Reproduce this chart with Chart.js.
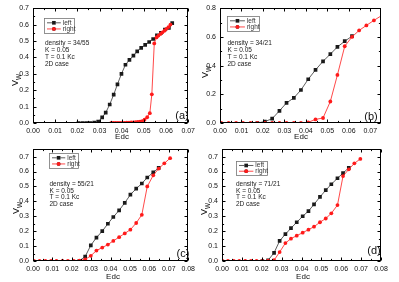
<!DOCTYPE html>
<html><head><meta charset="utf-8">
<script src="https://cdn.jsdelivr.net/npm/chart.js@4/dist/chart.umd.min.js"></script>
<style>
html,body{margin:0;padding:0;background:#fff;}
#wrap{position:relative;width:399px;height:282px;overflow:hidden;background:#fff}
canvas{position:absolute}
</style>
</head><body>
<div id="wrap">
<canvas id="ca" width="199" height="141" style="left:0;top:0"></canvas>
<canvas id="cb" width="200" height="141" style="left:199px;top:0"></canvas>
<canvas id="cc" width="199" height="141" style="left:0;top:141px"></canvas>
<canvas id="cd" width="200" height="141" style="left:199px;top:141px"></canvas>
</div>
<script>
// ---------- Panel (a): density = 34/55 ----------
const aLeftX  = [0.0205,0.0223,0.0240,0.0258,0.0276,0.0294,0.0312,0.0328,0.0346,0.0364,0.0381,0.0399,0.0417,0.0435,0.0453,0.0470,0.0488,0.0506,0.0524,0.0542,0.0559,0.0577,0.0595,0.0613,0.0628];
const aLeftY  = [0,0,0,0,0.003,0.008,0.034,0.063,0.113,0.173,0.236,0.30,0.355,0.385,0.411,0.437,0.458,0.476,0.494,0.512,0.534,0.55,0.57,0.58,0.609];
const aRightX = [0.0353,0.0363,0.0373,0.0383,0.0393,0.0403,0.0413,0.0423,0.0433,0.0443,0.0453,0.0463,0.0473,0.0483,0.0493,0.0503,0.0515,0.0527,0.0536,0.0547,0.0557,0.0566,0.0575,0.0584,0.0593,0.0602,0.0611,0.0620];
const aRightY = [0,0,0,0,0,0.001,0.001,0.002,0.002,0.003,0.004,0.005,0.006,0.008,0.012,0.02,0.035,0.06,0.175,0.485,0.522,0.533,0.543,0.553,0.563,0.574,0.585,0.60];
// ---------- Panel (b): density = 34/21 ----------
const bLeftX  = [0.0174,0.0209,0.0243,0.0277,0.0310,0.0344,0.0377,0.0411,0.0445,0.0480,0.0514,0.0547,0.0581,0.0615];
const bLeftY  = [0,0.01,0.03,0.085,0.14,0.175,0.23,0.305,0.37,0.43,0.48,0.53,0.57,0.605];
const bRightX = [0.0006,0.0040,0.0075,0.0107,0.0142,0.0174,0.0209,0.0243,0.0277,0.0310,0.0344,0.0377,0.0411,0.0445,0.0480,0.0514,0.0547,0.0581,0.0615,0.0648,0.0682,0.0717,0.0786];
const bRightY = [0,0,0,0,0,0,0,0,0,0,0,0,0.005,0.025,0.035,0.15,0.335,0.535,0.60,0.645,0.68,0.715,0.78];
// ---------- Panel (c): density = 55/21 ----------
const cLeftX  = [0.0239,0.0269,0.0298,0.0327,0.0357,0.0386,0.0414,0.0444,0.0473,0.0502,0.0532,0.0561,0.0589,0.0620,0.0648];
const cLeftY  = [0,0.03,0.105,0.157,0.20,0.25,0.295,0.34,0.39,0.445,0.485,0.52,0.56,0.595,0.625];
const cRightX = [0.0005,0.0034,0.0064,0.0093,0.0121,0.0152,0.0180,0.0210,0.0239,0.0269,0.0298,0.0327,0.0357,0.0386,0.0414,0.0444,0.0473,0.0502,0.0532,0.0561,0.0589,0.0620,0.0648,0.0677,0.0707];
const cRightY = [0,0,0,0,0,0,0,0,0.002,0.01,0.035,0.07,0.09,0.11,0.135,0.16,0.185,0.21,0.255,0.31,0.50,0.575,0.62,0.655,0.69];
// ---------- Panel (d): density = 71/21 ----------
const dLeftX  = [0.0203,0.0232,0.0262,0.0290,0.0319,0.0347,0.0376,0.0406,0.0435,0.0463,0.0493,0.0522,0.0550,0.0581,0.0609,0.0638];
const dLeftY  = [0,0.005,0.055,0.135,0.18,0.22,0.26,0.30,0.335,0.38,0.43,0.475,0.515,0.555,0.59,0.625];
const dRightX = [0.0003,0.0030,0.0059,0.0087,0.0117,0.0146,0.0174,0.0203,0.0232,0.0262,0.0290,0.0319,0.0347,0.0376,0.0406,0.0435,0.0463,0.0493,0.0522,0.0550,0.0581,0.0609,0.0638,0.0666,0.0696];
const dRightY = [0,0,0,0,0,0,0,0,0.002,0.005,0.06,0.12,0.15,0.17,0.19,0.21,0.23,0.26,0.285,0.32,0.375,0.57,0.615,0.655,0.685];

const seriesNames = ['left','right'];
const panelLabels = ['(a)','(b)','(c)','(d)'];
const densities = ['34/55','34/21','55/21','71/21'];
const notesTail = ['K = 0.05','T = 0.1 Kc','2D case'];
const xTitle = 'Edc';

const FONT = '"Liberation Sans", Arial, sans-serif';
const BLACK = '#1a1a1a', RED = '#ff1a1a';

function pts(xs, ys){ return xs.map((x,i)=>({x:x,y:ys[i]})); }

const decor = {
  id:'decor',
  afterDraw(chart){
    const o = chart.options.plugins.decor;
    const ctx = chart.ctx, a = chart.chartArea;
    const xs = chart.scales.x, ys = chart.scales.y;
    ctx.save();
    ctx.strokeStyle = '#000'; ctx.lineWidth = 1;
    const L = Math.round(a.left)+0.5, T = Math.round(a.top)+0.5, R = Math.round(a.right)-0.5, B = Math.round(a.bottom)-0.5;
    ctx.strokeRect(L, T, R-L, B-T);
    function ln(x1,y1,x2,y2){ ctx.beginPath(); ctx.moveTo(x1,y1); ctx.lineTo(x2,y2); ctx.stroke(); }
    // x ticks (major + minor), inward, top & bottom
    const xt = xs.ticks.map(t=>t.value);
    xt.forEach((v,i)=>{
      const p = Math.round(xs.getPixelForValue(v))+0.5;
      ln(p,B,p,B-3); ln(p,T,p,T+3);
      const nv = v + (xt[1]-xt[0])/2;
      if (nv < xs.max) { const q = Math.round(xs.getPixelForValue(nv))+0.5; ln(q,B,q,B-1.6); ln(q,T,q,T+1.6); }
    });
    const yt = ys.ticks.map(t=>t.value);
    yt.forEach((v,i)=>{
      const p = Math.round(ys.getPixelForValue(v))+0.5;
      ln(L,p,L+3,p); ln(R,p,R-3,p);
      const nv = v + (yt[1]-yt[0])/2;
      if (nv < ys.max) { const q = Math.round(ys.getPixelForValue(nv))+0.5; ln(L,q,L+1.6,q); ln(R,q,R-1.6,q); }
    });
    // legend box
    const lg = o.legend;
    ctx.strokeStyle = '#777'; ctx.lineWidth = 0.8;
    ctx.fillStyle = '#fff';
    ctx.fillRect(lg.x, lg.y, lg.w, lg.h);
    ctx.strokeRect(lg.x+0.5, lg.y+0.5, lg.w, lg.h);
    chart.data.datasets.forEach((ds,i)=>{
      const yy = lg.y + lg.h*(i===0?0.32:0.73);
      const x1 = lg.x+3, x2 = lg.x+lg.w*0.56;
      ctx.strokeStyle = ds.borderColor; ctx.lineWidth = 0.8;
      ln(x1,yy,x2,yy);
      Chart.helpers.drawPoint(ctx, {pointStyle: ds.pointStyle, radius: ds.pointRadius, borderWidth: 0}, (x1+x2)/2, yy);
      ctx.fillStyle = ds.backgroundColor;
      ctx.fill();
      ctx.fillStyle = '#333'; ctx.font = '6.5px '+FONT; ctx.textBaseline='middle'; ctx.textAlign='left';
      ctx.fillText(ds.label, x2+2, yy);
    });
    // notes
    ctx.fillStyle = '#222'; ctx.font = '6.5px '+FONT; ctx.textBaseline='middle'; ctx.textAlign='left';
    o.notes.forEach((s,i)=>ctx.fillText(s, o.noteX, o.noteY + i*6.8));
    // panel label
    ctx.fillStyle = '#111'; ctx.font = '11px '+FONT; ctx.textAlign='center';
    ctx.fillText(o.label, o.labelX, o.labelY);
    // x title
    ctx.font = '8px '+FONT; ctx.fillStyle='#111'; ctx.textAlign='center'; ctx.textBaseline='middle';
    ctx.fillText(xTitle, o.xtX, o.xtY);
    // y title  V_W rotated
    ctx.translate(o.ytX, o.ytY); ctx.rotate(-Math.PI/2);
    ctx.font = '9px '+FONT; const wV = ctx.measureText('V').width;
    ctx.font = '6.5px '+FONT; const wW = ctx.measureText('W').width;
    const x0 = -(wV+wW)/2;
    ctx.textAlign='left';
    ctx.font = '9px '+FONT; ctx.fillText('V', x0, 0);
    ctx.font = '6.5px '+FONT; ctx.fillText('W', x0+wV, 3);
    ctx.restore();
  }
};

function makePanel(id, lx, ly, rx, ry, sc, d){
  new Chart(document.getElementById(id), {
    type:'line',
    data:{datasets:[
      {label:seriesNames[0], data:pts(lx,ly), borderColor:'#333', backgroundColor:BLACK, borderWidth:0.8,
       pointStyle:'rect', pointRadius:2.6, pointBorderWidth:0, pointBackgroundColor:BLACK, order:2, tension:0},
      {label:seriesNames[1], data:pts(rx,ry), borderColor:RED, backgroundColor:RED, borderWidth:0.8,
       pointStyle:'circle', pointRadius:1.9, pointBorderWidth:0, pointBackgroundColor:RED, order:1, tension:0}
    ]},
    options:{
      responsive:false, animation:false, devicePixelRatio:1,
      layout:{padding:{top:sc.padT, right:sc.padR, left:0, bottom:0}},
      plugins:{legend:{display:false}, tooltip:{enabled:false}, decor:d},
      scales:{
        x:{type:'linear', min:0, max:sc.xmax,
           grid:{display:false, drawTicks:false}, border:{display:false},
           ticks:{stepSize:0.01, includeBounds:false, autoSkip:false, maxRotation:0, padding:4,
                  color:'#111', font:{family:FONT,size:7}, callback:v=>v.toFixed(2)},
           afterFit:s=>{s.height=sc.xh;}},
        y:{type:'linear', min:0, max:sc.ymax,
           grid:{display:false, drawTicks:false}, border:{display:false},
           ticks:{stepSize:sc.ystep, includeBounds:false, autoSkip:false, padding:4,
                  color:'#111', font:{family:FONT,size:7}, callback:v=>v.toFixed(1)},
           afterFit:s=>{s.width=sc.yw;}}
      }
    },
    plugins:[decor]
  });
}
function notes(i){ return ['density = '+densities[i]].concat(notesTail); }

makePanel('ca', aLeftX,aLeftY,aRightX,aRightY,
  {padT:7,padR:8,xh:18,yw:33,xmax:0.07,ymax:0.7,ystep:0.1},
  {legend:{x:44,y:18,w:30,h:15}, notes:notes(0), noteX:45, noteY:43.5,
   label:panelLabels[0], labelX:182, labelY:116, xtX:122, xtY:137, ytX:16, ytY:80});
makePanel('cb', bLeftX,bLeftY,bRightX,bRightY,
  {padT:7,padR:18,xh:18,yw:21,xmax:0.075,ymax:0.8,ystep:0.2},
  {legend:{x:28,y:16,w:32,h:15}, notes:notes(1), noteX:28.5, noteY:43.5,
   label:panelLabels[1], labelX:172, labelY:117, xtX:102, xtY:137, ytX:7, ytY:72});
makePanel('cc', cLeftX,cLeftY,cRightX,cRightY,
  {padT:5,padR:7,xh:21,yw:33,xmax:0.08,ymax:0.75,ystep:0.1},
  {legend:{x:49,y:12,w:29,h:15}, notes:notes(2), noteX:49.5, noteY:43,
   label:panelLabels[2], labelX:183, labelY:113, xtX:113, xtY:136, ytX:17, ytY:67});
makePanel('cd', dLeftX,dLeftY,dRightX,dRightY,
  {padT:5,padR:18,xh:21,yw:23,xmax:0.08,ymax:0.75,ystep:0.1},
  {legend:{x:37,y:20,w:31,h:14}, notes:notes(3), noteX:37, noteY:43,
   label:panelLabels[3], labelX:175, labelY:110, xtX:104, xtY:136, ytX:6, ytY:68});
</script>
</body></html>
